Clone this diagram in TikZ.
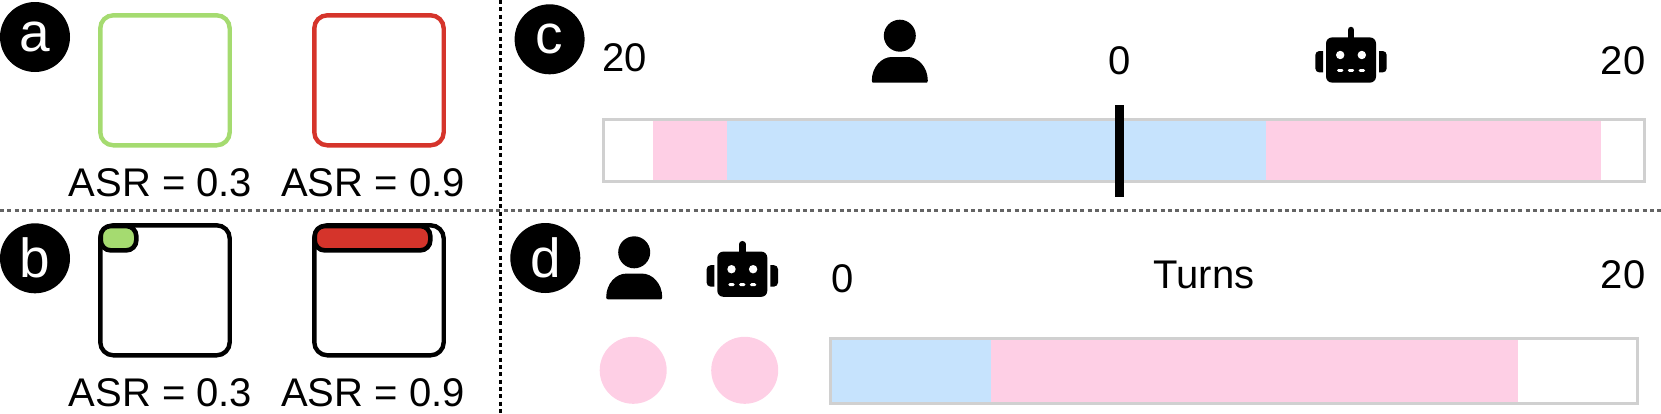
\documentclass[tikz,border=0pt]{standalone}
\usepackage{fontspec}
\setmainfont{Liberation Sans}
\usepackage{xcolor}
\definecolor{asrgreen}{RGB}{165,219,112}
\definecolor{asrred}{RGB}{213,52,43}
\definecolor{turnpink}{RGB}{254,207,229}
\definecolor{turnblue}{RGB}{198,227,253}
\definecolor{framegray}{RGB}{208,208,208}
\definecolor{rulegray}{RGB}{100,100,100}
\tikzstyle{badge} = [circle,fill=black,text=white,inner sep=0pt,outer sep=0pt,minimum size=70pt,font=\fontsize{55}{60}\selectfont]
\tikzstyle{lbl} = [anchor=base,inner sep=0pt,outer sep=0pt,font=\fontsize{40}{44}\selectfont]
\tikzstyle{tile} = [draw,rounded corners=13pt,line width=4.4pt,inner sep=0pt,outer sep=0pt,minimum width=129.4pt,minimum height=130pt]
\tikzstyle{pill} = [draw=black,rounded corners=10pt,line width=4.6pt,inner sep=0pt,outer sep=0pt,minimum height=24.3pt]
\tikzstyle{barframe} = [draw=framegray,line width=3pt,inner sep=0pt,outer sep=0pt]
\tikzstyle{rating} = [circle,fill=turnpink,inner sep=0pt,outer sep=0pt,minimum size=67pt]
\tikzstyle{divider} = [line width=2.5pt,dash pattern=on 4pt off 3.3pt]
\tikzset{
  usericon/.pic={
    \fill (0,0) circle (16);
    \fill (-28,45) .. controls (-28,47) and (-27,47) .. (-26,47) -- (26,47)
      .. controls (27,47) and (28,47) .. (28,45)
      .. controls (28,31) and (18,21.3) .. (8,21.3) -- (-8,21.3)
      .. controls (-18,21.3) and (-28,31) .. (-28,45) -- cycle;
  },
  roboticon/.pic={
    \fill[rounded corners=6pt] (-25,-22.6) rectangle (25,22.6);
    \draw[line width=6.5pt,line cap=round] (0,-30) -- (0,-20);
    \foreach \s in {-1,1} {
      \begin{scope}[xscale=\s]
        \fill (28,-9) [rounded corners=4pt] -- (35.7,-9) -- (35.7,12.4) [sharp corners] -- (28,12.4) -- cycle;
        \fill[white] (10.8,-5) circle (4.2);
        \fill[white,rounded corners=1.4pt] (7.6,9) rectangle (14,11.9);
      \end{scope}
    }
    \fill[white,rounded corners=1.4pt] (-3.2,9) rectangle (3.2,11.9);
  }
}

\begin{document}
\begin{tikzpicture}[x=1pt,y=-1pt]
\useasboundingbox (0,0) rectangle (1661,413);

% Dividers
\coordinate (ruleL) at (0,210.7);
\coordinate (ruleR) at (1661,210.7);
\coordinate (ruleT) at (500.6,0);
\coordinate (ruleB) at (500.6,413);
\draw[divider,color=rulegray] (ruleL) -- (ruleR);
\draw[divider,color=black] (ruleT) -- (ruleB);

% Panel a
\node[badge] (badgeA) at (35,37) {a};
\node[tile,draw=asrgreen] (tileGood) at (165,80.3) {};
\node[tile,draw=asrred] (tileBad) at (379,80.3) {};
\node[lbl] (asrGood) at (160.5,196.7) {ASR = 0.3};
\node[lbl] (asrBad) at (373,196.7) {ASR = 0.9};

% Panel b
\node[badge] (badgeB) at (35,258.3) {b};
\node[tile,draw=black] (winGood) at (165,290.3) {};
\node[tile,draw=black] (winBad) at (379,290.3) {};
\node[pill,fill=asrgreen,minimum width=35.6pt] (pillGood) at (118.5,238.2) {};
\node[pill,fill=asrred,minimum width=115.6pt] (pillBad) at (372.5,238.2) {};
\node[lbl] (asrGoodB) at (160.5,406) {ASR = 0.3};
\node[lbl] (asrBadB) at (373,406) {ASR = 0.9};

% Panel c
\node[badge] (badgeC) at (549.6,39.3) {c};
\node[lbl] (leftMax) at (624.4,71.7) {20};
\node[lbl] (midZero) at (1119.3,74) {0};
\node[lbl] (rightMax) at (1623,74) {20};
\pic (userC) at (899.8,35.7) {usericon};
\pic (robotC) at (1351,60) {roboticon};
\fill[turnpink] (653,119.3) rectangle (726.8,182);
\fill[turnblue] (726.8,119.3) rectangle (1265.9,182);
\fill[turnpink] (1265.9,119.3) rectangle (1601.1,182);
\node[barframe,minimum width=1041pt,minimum height=62.7pt] (barC) at (1123.7,150.6) {};
\node[fill=black,inner sep=0pt,outer sep=0pt,minimum width=9.2pt,minimum height=92pt] (tickC) at (1119.3,150.7) {};

% Panel d
\node[badge] (badgeD) at (545.3,258) {d};
\pic (userD) at (634.2,252.3) {usericon};
\pic (robotD) at (742.3,274.2) {roboticon};
\node[lbl] (turnsMin) at (842.7,292.7) {0};
\node[lbl] (turnsName) at (1204,288.3) {Turns};
\node[lbl] (turnsMax) at (1623,288.3) {20};
\node[rating] (rateUser) at (633.2,370.3) {};
\node[rating] (rateRobot) at (744.7,370.3) {};
\fill[turnblue] (830.5,338.2) rectangle (991.3,403);
\fill[turnpink] (991.3,338.2) rectangle (1518.3,403);
\node[barframe,minimum width=807pt,minimum height=64.8pt] (barD) at (1234,370.6) {};
\end{tikzpicture}
\end{document}
